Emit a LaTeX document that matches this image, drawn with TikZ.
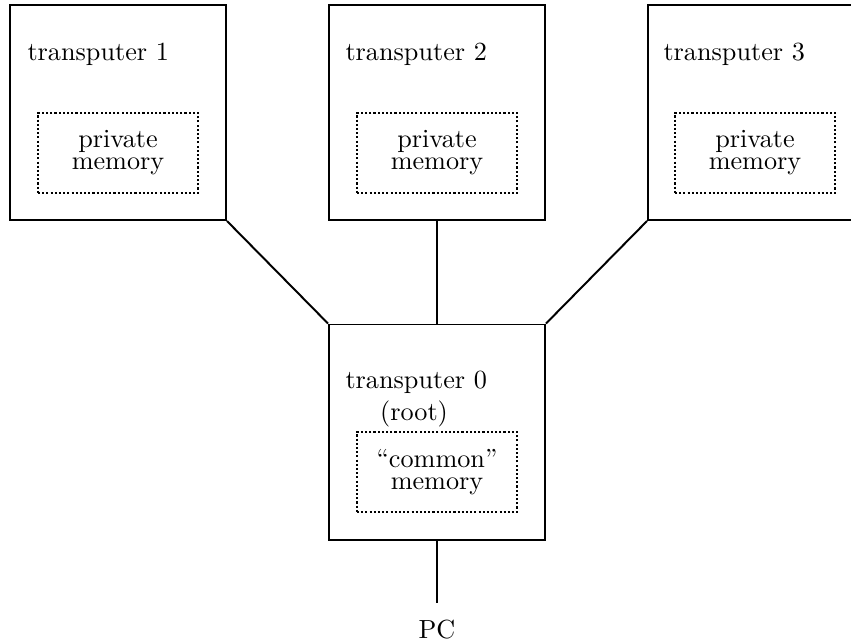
\documentclass[tikz,border=0pt]{standalone}
\begin{document}
\begin{tikzpicture}[x=0.3817pt,y=-0.3817pt,
  tbox/.style={draw,line width=0.75pt,inner sep=0pt,minimum width=82.45pt,minimum height=82.07pt},
  mem/.style={draw,line width=0.6pt,dash pattern=on 0.8pt off 0.8pt,inner sep=0pt,minimum width=61.07pt,minimum height=30.54pt,align=center,font=\fontsize{10}{8.4}\selectfont},
  lbl/.style={inner sep=0pt,anchor=base west},
  conn/.style={line width=0.75pt}]
\useasboundingbox (0,0) rectangle (851,643);
\node[tbox] (b1) at (118,112.5) {};
\node[tbox] (b2) at (437,112.5) {};
\node[tbox] (b3) at (756,112.5) {};
\node[tbox] (b0) at (437,432) {};
\node[mem] (m1) at (118,153) {private\\memory};
\node[mem] (m2) at (437,153) {private\\memory};
\node[mem] (m3) at (755,153) {private\\memory};
\node[mem] (m0) at (437,472) {``common''\\memory};
\node[lbl] (t1) at (27,60) {transputer 1};
\node[lbl] (t2) at (345,60) {transputer 2};
\node[lbl] (t3) at (663,60) {transputer 3};
\node[lbl] (t0) at (345,388) {transputer 0};
\node[inner sep=0pt,anchor=base] (root) at (414,420) {(root)};
\node[inner sep=0pt,outer ysep=6.15pt,anchor=base] (pc) at (437,638) {PC};
\draw[conn] (b1.south east) -- (b0.north west);
\draw[conn] (b2.south) -- (b0.north);
\draw[conn] (b3.south west) -- (b0.north east);
\draw[conn] (b0.south) -- (pc.north);
\end{tikzpicture}
\end{document}
